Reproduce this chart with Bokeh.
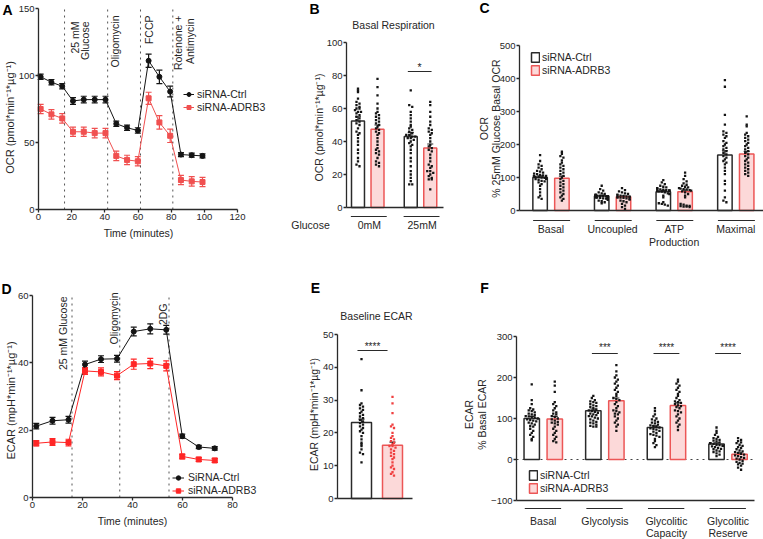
import numpy as np
from bokeh.plotting import figure
from bokeh.layouts import column, row
from bokeh.models import (Range1d, FixedTicker, Label, Legend, LegendItem,
                          Whisker, TeeHead, ColumnDataSource, LinearAxis)
from bokeh.embed import file_html
from bokeh.resources import INLINE

FONT = "Liberation Sans"
TXT = "#262626"
AX = "#2a2a2a"
BLACK = "#141414"
RED_A = "#f05050"
RED_D = "#ff2626"
PINK = "#fcd9d9"
RED_EDGE = "#ec5656"

# ---------------- data ----------------
# A: OCR time course
a_time = [1.3, 7.8, 14.3, 20.8, 27.3, 33.9, 40.4, 46.9, 53.4, 59.9, 66.4, 72.9, 79.4, 85.9, 92.4, 98.9]
a_ctrl = [99, 95, 92, 81, 82, 82, 82, 64, 61, 59, 111, 99, 88, 41, 40.5, 40]
a_ctrl_err = [2, 2, 2, 2.5, 2.5, 2.5, 2.5, 2, 2, 2, 5, 5, 4, 1.5, 1.5, 1.5]
a_adrb3 = [75, 71, 68, 58, 58, 57, 57, 40, 37, 36, 83, 65, 55, 22, 21, 20.5]
a_adrb3_err = [3.5, 3.5, 3.5, 3.5, 3.5, 3.5, 3.5, 3.5, 3.5, 3.5, 4.5, 5, 5, 3.5, 3.5, 3.5]
a_inj_time = [15.7, 41.7, 61.5, 81.0]
a_xticks = [0, 20, 40, 60, 80, 100, 120]
a_yticks = [0, 50, 100, 150]

# B: basal respiration
b_groups = ["0mM", "25mM"]
b_mean_ctrl = [52.5, 43.0]
b_sem_ctrl = [2.5, 2.5]
b_mean_adrb3 = [47.5, 36.0]
b_sem_adrb3 = [2.5, 2.5]
b_ctrl_0 = [72, 71, 70, 66, 64, 63, 62, 61, 60, 60, 59, 58, 58, 57, 56, 55, 54, 53, 52, 51,
            50, 48, 46, 45, 44, 42, 40, 38, 35, 33, 30, 28, 26, 25]
b_adrb3_0 = [78, 73, 68, 63, 60, 58, 57, 56, 55, 54, 53, 52, 51, 50, 49, 48, 47, 46, 45, 44,
             42, 40, 38, 36, 35, 34, 33, 32, 30, 28, 27, 26, 25]
b_ctrl_25 = [71, 62, 61, 58, 56, 54, 52, 50, 49, 48, 47, 46, 45, 44, 44, 43, 43, 42, 42, 41,
             40, 39, 38, 37, 35, 33, 30, 28, 25, 22, 20, 18, 16, 14, 14]
b_adrb3_25 = [64, 62, 58, 55, 52, 50, 48, 47, 46, 45, 44, 42, 40, 38, 37, 36, 35, 34, 32, 30,
              28, 26, 25, 24, 22, 22, 21, 20, 19, 18, 17, 17, 11]
b_yticks = [0, 20, 40, 60, 80, 100]

# C: OCR parameters
c_groups = ["Basal", "Uncoupled", "ATP\nProduction", "Maximal"]
c_mean_ctrl = [100, 44, 57, 168]
c_sem_ctrl = [5, 2, 4, 13]
c_mean_adrb3 = [98, 42, 57, 171]
c_sem_adrb3 = [6, 2, 5, 8]
c_ctrl_pts = [
    [168, 150, 140, 135, 130, 125, 120, 118, 115, 112, 110, 108, 106, 105, 104, 103, 102, 101,
     100, 99, 98, 96, 95, 93, 90, 88, 85, 80, 75, 65, 55, 45, 40, 35],
    [75, 65, 60, 55, 52, 50, 48, 47, 46, 45, 45, 44, 44, 43, 43, 42, 42, 41, 40, 40, 39, 38,
     37, 36, 35, 32, 30, 28, 25, 22],
    [92, 85, 80, 75, 72, 70, 68, 66, 65, 64, 63, 62, 61, 60, 60, 59, 58, 57, 55, 52, 50, 45,
     40, 25, 22, 20, 18, 15],
    [395, 375, 290, 260, 240, 235, 230, 225, 220, 210, 205, 200, 195, 190, 185, 180, 175, 170,
     165, 160, 155, 150, 145, 140, 130, 120, 110, 90, 80, 60, 40, 30, 25],
]
c_adrb3_pts = [
    [178, 172, 165, 160, 152, 145, 140, 135, 130, 125, 120, 115, 110, 105, 100, 95, 90, 85,
     80, 75, 70, 65, 60, 55, 50, 45, 40, 35, 30],
    [68, 62, 58, 55, 52, 50, 48, 46, 45, 44, 43, 42, 41, 40, 40, 39, 38, 37, 35, 33, 30, 28,
     25, 20, 15, 10, 5],
    [115, 105, 95, 88, 82, 78, 75, 72, 70, 68, 66, 65, 64, 62, 60, 58, 55, 50, 45, 40, 20, 18,
     15, 14, 13, 12, 12, 10],
    [285, 260, 255, 235, 230, 225, 220, 215, 210, 205, 200, 195, 190, 185, 180, 175, 170, 165,
     160, 155, 150, 145, 140, 135, 130, 125, 120, 115, 110, 105],
]
c_yticks = [0, 100, 200, 300, 400, 500]

# D: ECAR time course
d_time = [1.5, 8.0, 14.4, 21.0, 27.4, 33.8, 40.5, 47.1, 53.5, 59.9, 66.5, 72.9]
d_ctrl = [21.2, 22.8, 23.1, 39.5, 41.1, 41.2, 49.3, 50.1, 49.8, 18.2, 15.0, 14.6]
d_ctrl_err = [0.8, 1.0, 1.0, 1.0, 1.0, 1.0, 1.3, 1.5, 1.3, 0.6, 0.5, 0.5]
d_adrb3 = [16.1, 16.5, 16.3, 37.6, 37.3, 36.2, 39.6, 39.8, 39.1, 12.2, 11.3, 11.0]
d_adrb3_err = [0.8, 1.0, 1.0, 1.0, 1.2, 1.2, 1.5, 1.5, 1.5, 0.7, 0.6, 0.6]
d_inj_time = [15.8, 34.9, 54.6]
d_xticks = [0, 20, 40, 60, 80]
d_yticks = [0, 20, 40, 60]

# E: baseline ECAR
e_mean = [23.2, 16.2]
e_sem = [1.0, 1.0]
e_ctrl_pts = [42.5, 33, 29, 28.5, 28, 27.5, 27, 26.5, 26, 25.5, 25, 24.5, 24, 23.5, 23, 22.5,
              22, 21.5, 21, 20.5, 20, 19, 18, 17, 16.5, 16, 15, 14, 13.5, 11]
e_adrb3_pts = [31, 29, 26, 22.5, 22, 21.5, 20, 19, 18.5, 18, 17.5, 17, 16.5, 16, 16, 15.5, 15,
               14.5, 14, 13.5, 13, 12.5, 12, 11, 10, 9.5, 9, 8, 7.5, 7]
e_yticks = [0, 10, 20, 30, 40, 50]

# F: glycolysis parameters
f_groups = ["Basal", "Glycolysis", "Glycolitic\nCapacity", "Glycolitic\nReserve"]
f_mean_ctrl = [100, 119, 78, 38]
f_sem_ctrl = [5, 4, 4, 2.5]
f_mean_adrb3 = [99, 143, 132, 13]
f_sem_adrb3 = [6, 7, 6, 3]
f_ctrl_pts = [
    [183, 145, 135, 125, 122, 120, 118, 115, 112, 110, 108, 106, 105, 104, 102, 100, 98, 96,
     95, 93, 90, 88, 85, 82, 80, 75, 70, 65, 60, 55, 50, 47],
    [155, 150, 145, 142, 140, 138, 135, 132, 130, 128, 125, 122, 120, 118, 116, 114, 112, 110,
     108, 106, 105, 102, 100, 98, 95, 92, 90, 88, 85, 82, 80, 80],
    [125, 118, 110, 105, 100, 98, 95, 92, 90, 88, 85, 83, 82, 80, 78, 76, 75, 73, 70, 68, 65,
     62, 60, 58, 55, 50, 45, 40, 35, 30],
    [78, 70, 65, 60, 55, 52, 50, 48, 46, 44, 42, 40, 40, 38, 36, 35, 34, 33, 32, 30, 28, 26,
     25, 22, 20, 18, 15, 12, 8],
]
f_adrb3_pts = [
    [190, 180, 165, 140, 135, 130, 125, 120, 115, 112, 110, 106, 104, 100, 98, 95, 92, 90, 88,
     85, 80, 75, 70, 65, 60, 55, 50, 45, 42],
    [230, 215, 205, 200, 195, 190, 185, 180, 175, 170, 165, 160, 155, 150, 148, 145, 140, 135,
     130, 125, 120, 118, 115, 112, 110, 105, 100, 95, 90, 85, 80, 70],
    [195, 190, 185, 180, 175, 170, 165, 160, 155, 150, 145, 142, 140, 138, 135, 132, 130, 128,
     125, 120, 118, 115, 110, 105, 100, 95, 90, 85, 80, 72],
    [52, 48, 45, 42, 40, 36, 33, 30, 28, 25, 22, 20, 18, 16, 14, 12, 10, 8, 6, 4, 2, 0, -3, -6,
     -8, -10, -12, -15, -20, -25],
]
f_yticks = [-100, 0, 100, 200, 300]
f_sig = [None, "***", "****", "****"]


# ---------------- helpers ----------------
def lin(p0, v0, p1, v1):
    k = (v1 - v0) / (p1 - p0)
    return lambda px: v0 + (px - p0) * k


def make_panel(box, xcal, ycal):
    """box = (X0, Y0, X1, Y1): page area the figure covers; its frame fills it."""
    X0, Y0, X1, Y1 = box
    fx = lin(*xcal)
    fy = lin(*ycal)
    p = figure(width=X1 - X0, height=Y1 - Y0,
               x_range=Range1d(fx(X0), fx(X1)), y_range=Range1d(fy(Y1), fy(Y0)),
               x_axis_type=None, y_axis_type=None,
               output_backend="svg", toolbar_location=None,
               min_border=0, min_border_left=0, min_border_right=0,
               min_border_top=0, min_border_bottom=0)
    p.outline_line_color = None
    p.background_fill_color = "white"
    p.border_fill_color = "white"
    return p, fx, fy


def style_axis(ax):
    ax.axis_line_color = AX
    ax.axis_line_width = 1.3
    ax.major_tick_line_color = AX
    ax.major_tick_line_width = 1.3
    ax.major_tick_out = 3
    ax.major_tick_in = 0
    ax.minor_tick_line_color = None
    ax.major_label_text_font = FONT
    ax.major_label_text_font_size = "9.5px"
    ax.major_label_text_color = TXT
    ax.major_label_standoff = 1


def add_axis(p, side, loc, ticks, bounds):
    ax = LinearAxis(fixed_location=loc, ticker=FixedTicker(ticks=ticks), bounds=bounds)
    style_axis(ax)
    if not ticks:
        ax.major_tick_line_color = None
        ax.major_label_text_font_size = "0px"
    p.add_layout(ax, side)
    return ax


def lab(p, fx, fy, text, px, py, size="10.5px", align="center", base="middle",
        angle=0, style="normal", color=TXT):
    p.add_layout(Label(x=fx(px), y=fy(py), text=text, text_align=align,
                       text_baseline=base, angle=angle, angle_units="deg",
                       text_font=FONT, text_font_size=size, text_font_style=style,
                       text_color=color))


def swarm(vals, center, yppu, xppu, half):
    binpx, steppx = 3.0, 3.0
    bins = {}
    for i, v in enumerate(vals):
        bins.setdefault(int(round(v * yppu / binpx)), []).append(i)
    xs = [center] * len(vals)
    for idx in bins.values():
        n = len(idx)
        for k, i in enumerate(idx):
            off = (k - (n - 1) / 2) * steppx / xppu
            xs[i] = center + max(-half, min(half, off))
    return xs


def whisk(p, xs, ys, es, color, size=6, width=1):
    src = ColumnDataSource(dict(x=xs, lo=[y - e for y, e in zip(ys, es)],
                                hi=[y + e for y, e in zip(ys, es)]))
    p.add_layout(Whisker(source=src, base="x", lower="lo", upper="hi",
                         line_color=color, line_width=width,
                         lower_head=TeeHead(size=size, line_color=color, line_width=width),
                         upper_head=TeeHead(size=size, line_color=color, line_width=width)))


def bracket(p, xs0, xs1, ys, color=AX, width=1):
    p.segment(x0=xs0, x1=xs1, y0=ys, y1=ys, line_color=color, line_width=width)


def vdotted(p, xs, y0, y1):
    p.segment(x0=xs, x1=xs, y0=[y0] * len(xs), y1=[y1] * len(xs), line_color="#555555",
              line_width=1, line_dash="dotted")


def timecourse(p, t, y, e, color, marker, size):
    whisk(p, t, y, e, color, size=6, width=1.2)
    lr = p.line(t, y, line_color=color, line_width=1)
    sr = p.scatter(t, y, marker=marker, size=size, fill_color=color, line_color=color)
    return lr, sr


def bars_with_dots(p, pos, means, sems, pts, fill, edge, dotc, width, yppu, xppu):
    r = p.vbar(x=pos, top=means, width=width, bottom=0, fill_color=fill, line_color=edge,
               line_width=1.5)
    xs, ys = [], []
    for c, vals in zip(pos, pts):
        xs += swarm(vals, c, yppu, xppu, width * 0.42)
        ys += list(vals)
    p.scatter(xs, ys, marker="square", size=2.3, fill_color=dotc, line_color=None)
    whisk(p, pos, means, sems, AX, size=6, width=1.2)
    return r


def legend(p, items, loc, gw, gh, lh, standoff, pitch_extra=1):
    lg = Legend(items=items, location=loc, orientation="vertical", padding=0, margin=0,
                spacing=pitch_extra, glyph_width=gw, glyph_height=gh, label_height=lh,
                label_standoff=standoff, label_text_font=FONT, label_text_font_size="10.5px",
                label_text_color=TXT, border_line_color=None, background_fill_alpha=0)
    p.add_layout(lg)


ROW1 = 260
H = 539

# ================= Row 1 =================
# ---- A ----
boxA = (0, 0, 285, ROW1)
pA, fxA, fyA = make_panel(boxA, (38, 0, 237, 120), (209, 0, 8, 150))
add_axis(pA, "below", 0, a_xticks, (0, 120))
add_axis(pA, "left", 0, a_yticks, (0, 150))
vdotted(pA, a_inj_time, a_yticks[0], a_yticks[-1])
ctrlA = timecourse(pA, a_time, a_ctrl, a_ctrl_err, BLACK, "circle", 5)
adrbA = timecourse(pA, a_time, a_adrb3, a_adrb3_err, RED_A, "square", 5)
inj_txtA = [[("25 mM", 74, 21), ("Glucose", 84, 21)], [("Oligomycin", 114, 15)],
            [("FCCP", 148, 15)], [("Rotenone +", 177, 15), ("Antimycin", 189, 18)]]
for items in inj_txtA:
    for txt, xpx, top in items:
        lab(pA, fxA, fyA, txt, xpx, top, align="right", angle=90)
legend(pA, [LegendItem(label="siRNA-Ctrl", renderers=list(ctrlA)),
            LegendItem(label="siRNA-ADRB3", renderers=list(adrbA))],
       (183 - boxA[0], boxA[3] - 113), 11, 10, 10, 3)
lab(pA, fxA, fyA, "A", 7, 9, size="14px", style="bold", color="#000000")
lab(pA, fxA, fyA, "OCR (pmol*min\u207b\u00b9*\u00b5g\u207b\u00b9)", 9, 117, angle=90, size="11px")
lab(pA, fxA, fyA, "Time (minutes)", 138, 232)

# ---- B ----
boxB = (285, 0, 460, ROW1)
b_pos = list(range(len(b_groups)))
pB, fxB, fyB = make_panel(boxB, (367.25, 0, 420, 1), (207, 0, 42, 100))
add_axis(pB, "left", fxB(346), b_yticks, (0, 100))
add_axis(pB, "below", 0, [], (fxB(346), fxB(443)))
dB, wB = 0.185, 0.246
yppuB, xppuB = 1.65, 52.75
bars_with_dots(pB, [x - dB for x in b_pos], b_mean_ctrl, b_sem_ctrl, [b_ctrl_0, b_ctrl_25],
               "white", AX, BLACK, wB, yppuB, xppuB)
bars_with_dots(pB, [x + dB for x in b_pos], b_mean_adrb3, b_sem_adrb3, [b_adrb3_0, b_adrb3_25],
               PINK, RED_EDGE, BLACK, wB, yppuB, xppuB)
bracket(pB, [x - 0.32 for x in b_pos], [x + 0.36 for x in b_pos], [fyB(216)] * 2)
for x, g in zip(b_pos, b_groups):
    pB.add_layout(Label(x=x + 0.03, y=fyB(224), text=g, text_align="center",
                        text_baseline="middle", text_font=FONT, text_font_size="10.5px",
                        text_color=TXT))
lab(pB, fxB, fyB, "Glucose", 310, 224)
bracket(pB, [b_pos[1] - 0.24], [b_pos[1] + 0.21], [fyB(71)])
lab(pB, fxB, fyB, "*", 419, 66)
lab(pB, fxB, fyB, "B", 314, 8, size="14px", style="bold", color="#000000")
lab(pB, fxB, fyB, "Basal Respiration", 393, 24)
lab(pB, fxB, fyB, "OCR (pmol*min\u207b\u00b9*\u00b5g\u207b\u00b9)", 318, 127, angle=90)

# ---- C ----
boxC = (460, 0, 763, ROW1)
c_pos = list(range(len(c_groups)))
pC, fxC, fyC = make_panel(boxC, (550.5, 0, 612.1, 1), (210, 0, 45, 500))
add_axis(pC, "left", fxC(519), c_yticks, (0, 500))
add_axis(pC, "below", 0, [], (fxC(519), fxC(763)))
dC, wC = 0.177, 0.235
yppuC, xppuC = 0.33, 61.6
rc1 = bars_with_dots(pC, [x - dC for x in c_pos], c_mean_ctrl, c_sem_ctrl, c_ctrl_pts,
                     "white", AX, BLACK, wC, yppuC, xppuC)
rc2 = bars_with_dots(pC, [x + dC for x in c_pos], c_mean_adrb3, c_sem_adrb3, c_adrb3_pts,
                     PINK, RED_EDGE, BLACK, wC, yppuC, xppuC)
bracket(pC, [x - 0.29 for x in c_pos], [x + 0.31 for x in c_pos], [fyC(220)] * 4)
for x, g in zip(c_pos, c_groups):
    for k, part in enumerate(g.split("\n")):
        pC.add_layout(Label(x=x, y=fyC(228 + 13 * k), text=part, text_align="center",
                            text_baseline="middle", text_font=FONT, text_font_size="10.5px",
                            text_color=TXT))
legend(pC, [LegendItem(label="siRNA-Ctrl", renderers=[rc1]),
            LegendItem(label="siRNA-ADRB3", renderers=[rc2])],
       (530 - boxC[0], boxC[3] - 76), 10, 12, 12, 2)
lab(pC, fxC, fyC, "C", 484, 7, size="14px", style="bold", color="#000000")
lab(pC, fxC, fyC, "OCR", 483, 128, angle=90)
lab(pC, fxC, fyC, "% 25mM Glucose Basal OCR", 495, 128, angle=90)

# ================= Row 2 =================
# ---- D ----
boxD = (0, ROW1, 290, H)
pD, fxD, fyD = make_panel(boxD, (32, 0, 232, 80), (497, 0, 295, 60))
add_axis(pD, "below", 0, d_xticks, (0, 80))
add_axis(pD, "left", 0, d_yticks, (0, 60))
vdotted(pD, d_inj_time, d_yticks[0], d_yticks[-1])
ctrlD = timecourse(pD, d_time, d_ctrl, d_ctrl_err, BLACK, "circle", 5)
adrbD = timecourse(pD, d_time, d_adrb3, d_adrb3_err, RED_D, "square", 5)
inj_txtD = [("25 mM Glucose", 62, 296), ("Oligomycin", 113, 292), ("2DG", 162, 303)]
for txt, xpx, top in inj_txtD:
    lab(pD, fxD, fyD, txt, xpx, top, align="right", angle=90)
legend(pD, [LegendItem(label="SiRNA-Ctrl", renderers=list(ctrlD)),
            LegendItem(label="siRNA-ADRB3", renderers=list(adrbD))],
       (172 - boxD[0], boxD[3] - 496), 12, 11, 11, 4)
lab(pD, fxD, fyD, "D", 6, 288, size="14px", style="bold", color="#000000")
lab(pD, fxD, fyD, "ECAR (mpH*min\u207b\u00b9*\u00b5g\u207b\u00b9)", 10, 400, angle=90, size="11px")
lab(pD, fxD, fyD, "Time (minutes)", 132, 520)

# ---- E ----
boxE = (290, ROW1, 450, H)
e_pos = [0, 1]
pE, fxE, fyE = make_panel(boxE, (361, 0, 392, 1), (498, 0, 334, 50))
add_axis(pE, "left", fxE(337), e_yticks, (0, 50))
add_axis(pE, "below", 0, [], (fxE(337), fxE(412)))
wE = 0.645
yppuE, xppuE = 3.28, 31
bars_with_dots(pE, [e_pos[0]], [e_mean[0]], [e_sem[0]], [e_ctrl_pts], "white", AX, BLACK,
               wE, yppuE, xppuE)
bars_with_dots(pE, [e_pos[1]], [e_mean[1]], [e_sem[1]], [e_adrb3_pts], PINK, RED_EDGE,
               "#f04040", wE, yppuE, xppuE)
bracket(pE, [e_pos[0] - 0.13], [e_pos[1] - 0.16], [fyE(350)])
lab(pE, fxE, fyE, "****", 372, 346, size="10px")
lab(pE, fxE, fyE, "E", 315, 287, size="14px", style="bold", color="#000000")
lab(pE, fxE, fyE, "Baseline ECAR", 376, 315)
lab(pE, fxE, fyE, "ECAR (mpH*min\u207b\u00b9*\u00b5g\u207b\u00b9)", 313, 414, angle=90)

# ---- F ----
boxF = (450, ROW1, 763, H)
f_pos = list(range(len(f_groups)))
pF, fxF, fyF = make_panel(boxF, (542.75, 0, 604.35, 1), (500, -100, 336, 300))
add_axis(pF, "left", fxF(516), f_yticks, (-100, 300))
add_axis(pF, "below", -100, [], (fxF(516), fxF(754)))
p0 = p1 = None
pF.segment(x0=[fxF(516)], x1=[fxF(754)], y0=[0], y1=[0], line_color="#444444",
           line_width=1, line_dash="dotted")
dF, wF = 0.187, 0.25
yppuF, xppuF = 0.41, 61.6
rf1 = bars_with_dots(pF, [x - dF for x in f_pos], f_mean_ctrl, f_sem_ctrl, f_ctrl_pts,
                     "white", AX, BLACK, wF, yppuF, xppuF)
rf2 = bars_with_dots(pF, [x + dF for x in f_pos], f_mean_adrb3, f_sem_adrb3, f_adrb3_pts,
                     PINK, RED_EDGE, BLACK, wF, yppuF, xppuF)
bracket(pF, [x - 0.3 for x in f_pos], [x + 0.29 for x in f_pos], [fyF(508)] * 4)
for x, g in zip(f_pos, f_groups):
    for k, part in enumerate(g.split("\n")):
        pF.add_layout(Label(x=x, y=fyF(520 + 12 * k), text=part, text_align="center",
                            text_baseline="middle", text_font=FONT, text_font_size="10.5px",
                            text_color=TXT))
sig_x = [x for x, s in zip(f_pos, f_sig) if s]
bracket(pF, [x - 0.21 for x in sig_x], [x + 0.21 for x in sig_x], [fyF(353)] * len(sig_x))
for x, s in zip(f_pos, f_sig):
    if s:
        pF.add_layout(Label(x=x, y=fyF(347), text=s, text_align="center",
                            text_baseline="middle", text_font=FONT, text_font_size="10px",
                            text_color=TXT))
legend(pF, [LegendItem(label="siRNA-Ctrl", renderers=[rf1]),
            LegendItem(label="siRNA-ADRB3", renderers=[rf2])],
       (528 - boxF[0], boxF[3] - 494), 10, 12, 12, 2)
lab(pF, fxF, fyF, "F", 484, 287, size="14px", style="bold", color="#000000")
lab(pF, fxF, fyF, "ECAR", 468, 414, angle=90)
lab(pF, fxF, fyF, "% Basal ECAR", 481, 414, angle=90)

layout = column(row(pA, pB, pC), row(pD, pE, pF))
open("out.html", "w").write(file_html(layout, INLINE))
